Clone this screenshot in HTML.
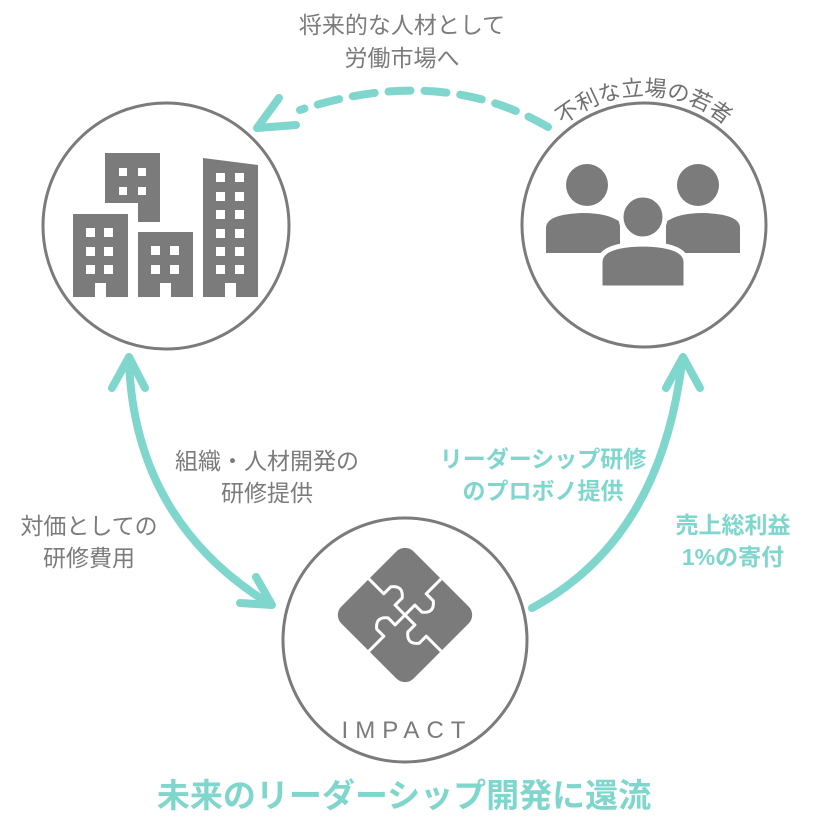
<!DOCTYPE html>
<html><head><meta charset="utf-8"><style>
html,body{margin:0;padding:0;background:#fff;}
svg{display:block}
text{font-family:"Liberation Sans","Noto Sans CJK JP",sans-serif;}
</style></head><body>
<svg width="836" height="840" viewBox="0 0 836 840" xmlns="http://www.w3.org/2000/svg">
<defs>
<path id="arcR" d="M 548 140 A 126 126 0 0 1 740 140"/>
</defs>
<g fill="none" stroke="#7b7b7b" stroke-width="3">
<circle cx="166" cy="226" r="123"/>
<circle cx="644" cy="225" r="122"/>
<circle cx="405" cy="640" r="122"/>
</g>
<g fill="#7b7b7b">
<path d="M105 153 H160 V222 H138 V203 H105 Z"/>
<path d="M73 214 H128 V297 H106 V283 H95 V297 H73 Z"/>
<path d="M138 232 H193 V297 H171 V283 H160 V297 H138 Z"/>
<path d="M203 158 L258 165 V297 H236 V283 H225 V297 H203 Z"/>
</g>
<g fill="#fff">
<rect x="119" y="168" width="8" height="8"/><rect x="138" y="168" width="8" height="8"/>
<rect x="119" y="187" width="8" height="8"/><rect x="138" y="187" width="8" height="8"/>
<rect x="86" y="228" width="9" height="9"/><rect x="104" y="228" width="9" height="9"/>
<rect x="86" y="247" width="9" height="9"/><rect x="104" y="247" width="9" height="9"/>
<rect x="86" y="265" width="9" height="9"/><rect x="104" y="265" width="9" height="9"/>
<rect x="151" y="246" width="9" height="9"/><rect x="170" y="246" width="9" height="9"/>
<rect x="151" y="265" width="9" height="9"/><rect x="170" y="265" width="9" height="9"/>
<rect x="216" y="173" width="9" height="9"/><rect x="235" y="173" width="9" height="9"/>
<rect x="216" y="192" width="9" height="9"/><rect x="235" y="192" width="9" height="9"/>
<rect x="216" y="210" width="9" height="9"/><rect x="235" y="210" width="9" height="9"/>
<rect x="216" y="229" width="9" height="9"/><rect x="235" y="229" width="9" height="9"/>
<rect x="216" y="247" width="9" height="9"/><rect x="235" y="247" width="9" height="9"/>
<rect x="216" y="265" width="9" height="9"/><rect x="235" y="265" width="9" height="9"/>
</g>
<g fill="#7b7b7b">
<circle cx="587" cy="185" r="21"/>
<circle cx="698" cy="185" r="21"/>
<path d="M546 253 V228 Q546 214 583 213 Q608 213 620 222 V253 Z"/>
<path d="M740 253 V228 Q740 214 703 213 Q678 213 666 222 V253 Z"/>
</g>
<g fill="#7b7b7b" stroke="#fff" stroke-width="5">
<circle cx="643" cy="217" r="22"/>
<path d="M600 288 V262 Q600 245 643 244 Q686 245 686 262 V288 Z"/>
</g>
<g transform="translate(405,615) rotate(45)">
<rect x="-51" y="-51" width="102" height="102" rx="12" fill="#7b7b7b"/>
<g fill="none" stroke="#fff" stroke-width="3" stroke-linejoin="round">
<path d="M-51 0 H-30 V-10 Q-22 -20 -14 -10 V0 H0"/>
<path d="M0 -51 V-30 H10 Q20 -22 10 -14 H0 V0"/>
<path d="M51 0 H30 V10 Q22 20 14 10 V0 H0"/>
<path d="M0 51 V30 H-10 Q-20 22 -10 14 H0 V0"/>
</g>
</g>
<text x="407" y="738" font-size="24" fill="#7b7b7b" text-anchor="middle" letter-spacing="7">IMPACT</text>
<g fill="none" stroke="#7fd6cc" stroke-width="8" stroke-linecap="round" stroke-linejoin="round">
<path d="M129 362 Q135 520 268 603"/>
<path d="M112 388 L129 357 L145 388"/>
<path d="M240 603 L272 605 L256 577"/>
<path d="M532 608 Q660 540 682 362"/>
<path d="M666 388 L683 357 L700 388"/>
<path d="M548 127 Q440 64 300 110" stroke-dasharray="22 14"/>
<path d="M279 98 L257 128 L296 125"/>
</g>
<g fill="#7b7b7b" font-size="23" text-anchor="middle">
<text x="402" y="33">将来的な人材として</text>
<text x="402" y="66">労働市場へ</text>
<text x="267" y="469">組織・人材開発の</text>
<text x="267" y="501">研修提供</text>
<text x="89" y="534">対価としての</text>
<text x="89" y="566">研修費用</text>
</g>
<text font-size="22" fill="#707070"><textPath href="#arcR" startOffset="50%" text-anchor="middle">不利な立場の若者</textPath></text>
<g fill="#7fd6cc" font-size="23" text-anchor="middle" font-weight="bold">
<text x="543" y="467">リーダーシップ研修</text>
<text x="543" y="499">のプロボノ提供</text>
<text x="733" y="533">売上総利益</text>
<text x="733" y="565">1%の寄付</text>
</g>
<text x="404" y="807" font-size="33" font-weight="bold" fill="#7fd6cc" text-anchor="middle">未来のリーダーシップ開発に還流</text>
</svg>
</body></html>
